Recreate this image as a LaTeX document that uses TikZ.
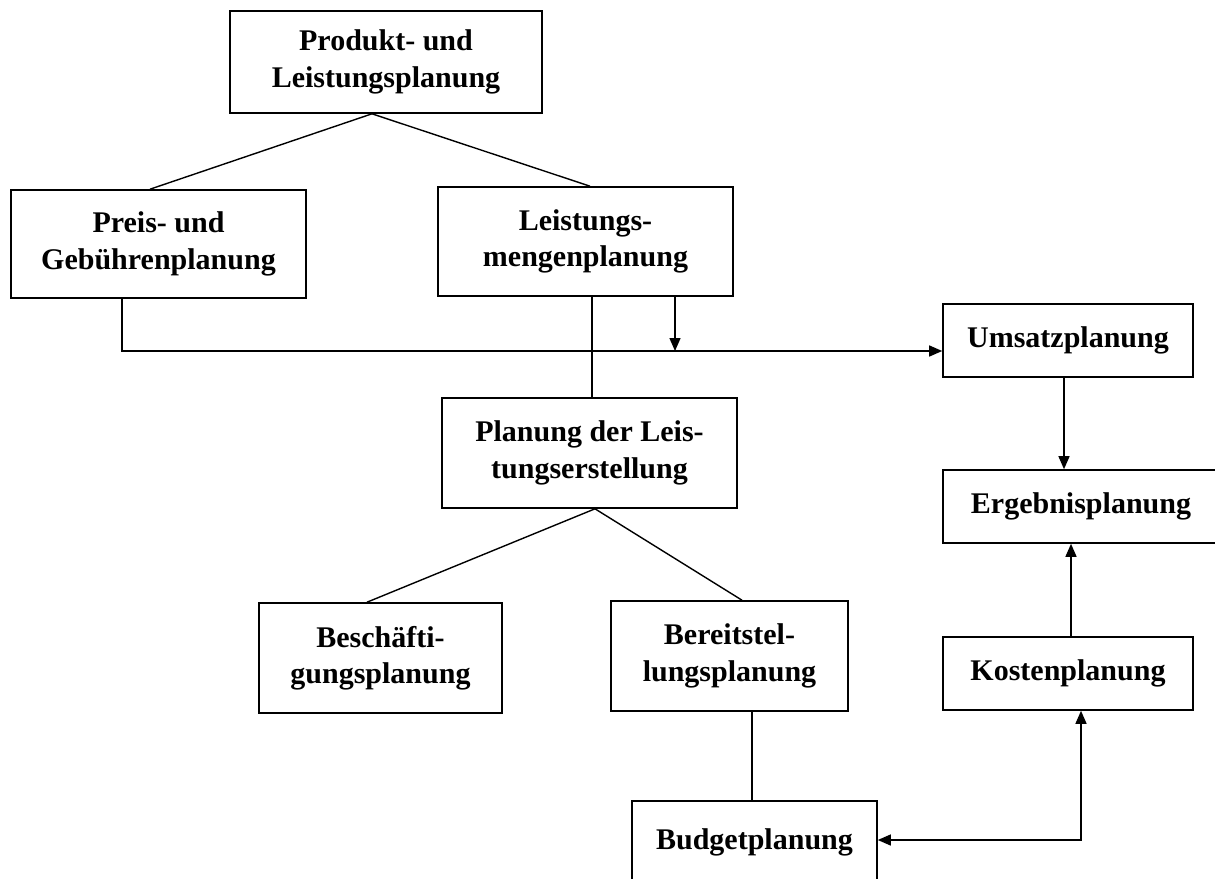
\documentclass[tikz,border=0pt]{standalone}
\usepackage{fontspec}
\setmainfont{Liberation Serif}
\usetikzlibrary{arrows.meta}
\begin{document}
\begin{tikzpicture}[x=1pt,y=-1pt,
  box/.style={draw,line width=1.6pt,inner sep=0pt,align=center,
    font=\fontsize{30}{36.5}\selectfont\bfseries},
  conn/.style={line width=1.4pt},
  >={Triangle[length=13pt,width=11pt]}]
\useasboundingbox (0,0) rectangle (1215,878);
\clip (0,0) rectangle (1215,878);
\fill[white] (0,0) rectangle (1215,878);
\node[box,minimum width=312pt,minimum height=102pt] (prod) at (386,62) {Produkt- und\\Leistungsplanung};
\node[box,minimum width=295pt,minimum height=108pt] (preis) at (158.5,244) {Preis- und\\Gebührenplanung};
\node[box,minimum width=295pt,minimum height=109pt] (menge) at (585.5,241.5) {Leistungs-\\mengenplanung};
\node[box,minimum width=250pt,minimum height=73pt] (umsatz) at (1068,340.5) {Umsatzplanung};
\node[box,minimum width=295pt,minimum height=110pt] (planung) at (589.5,453) {Planung der Leis-\\tungserstellung};
\node[box,minimum width=276pt,minimum height=73pt] (ergebnis) at (1081,506.5) {Ergebnisplanung};
\node[box,minimum width=243pt,minimum height=110pt] (besch) at (380.5,658) {Beschäfti-\\gungsplanung};
\node[box,minimum width=237pt,minimum height=110pt] (bereit) at (729.5,656) {Bereitstel-\\lungsplanung};
\node[box,minimum width=250pt,minimum height=73pt] (kosten) at (1068,673.5) {Kostenplanung};
\node[box,minimum width=245pt,minimum height=82pt] (budget) at (754.5,842) {Budgetplanung};
% tree lines
\draw[conn] ([xshift=-14pt]prod.south) -- ([xshift=-8.5pt]preis.north);
\draw[conn] ([xshift=-14pt]prod.south) -- ([xshift=4.5pt]menge.north);
\draw[conn] ([xshift=5.5pt]planung.south) -- ([xshift=-13.5pt]besch.north);
\draw[conn] ([xshift=5.5pt]planung.south) -- ([xshift=12.5pt]bereit.north);
\draw[conn] ([xshift=22.5pt]bereit.south) -- ([xshift=22.5pt]bereit.south |- budget.north);
% flow to Umsatz
\coordinate (join) at (675,351);
\draw[conn,->] ([xshift=-36.5pt]preis.south) |- ([yshift=-10.5pt]umsatz.west);
\draw[conn,->] ([xshift=89.5pt]menge.south) -- (join);
\draw[conn] ([xshift=6.5pt]menge.south) -- ([xshift=2.5pt]planung.north);
% right column
\draw[conn,->] ([xshift=-4pt]umsatz.south) -- ([xshift=-17pt]ergebnis.north);
\draw[conn,->] ([xshift=3pt]kosten.north) -- ([xshift=-10pt]ergebnis.south);
\draw[conn,<->] ([yshift=2pt]budget.east) -| ([xshift=13pt]kosten.south);
\end{tikzpicture}
\end{document}
